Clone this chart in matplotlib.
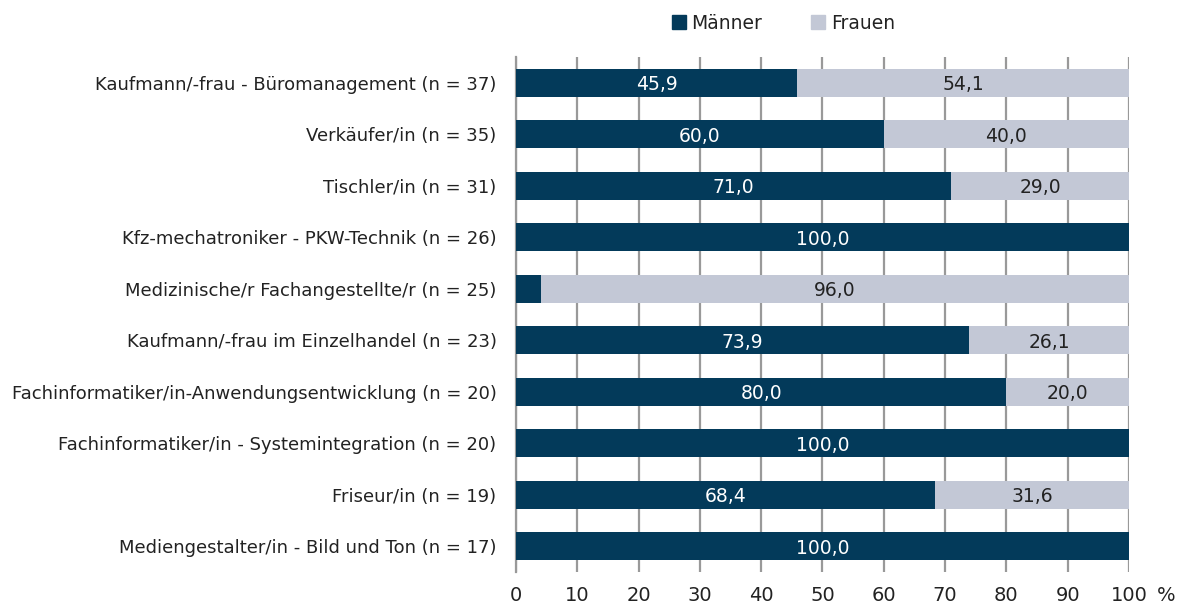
import numpy as np
import matplotlib.pyplot as plt
from matplotlib.patches import Patch

plt.rcParams['font.family'] = ['DejaVu Sans']

berufe = [
    'Kaufmann/-frau - Büromanagement (n = 37)',
    'Verkäufer/in (n = 35)',
    'Tischler/in (n = 31)',
    'Kfz-mechatroniker - PKW-Technik (n = 26)',
    'Medizinische/r Fachangestellte/r (n = 25)',
    'Kaufmann/-frau im Einzelhandel (n = 23)',
    'Fachinformatiker/in-Anwendungsentwicklung (n = 20)',
    'Fachinformatiker/in - Systemintegration (n = 20)',
    'Friseur/in (n = 19)',
    'Mediengestalter/in - Bild und Ton (n = 17)',
]
maenner = [45.9, 60.0, 71.0, 100.0, 4.0, 73.9, 80.0, 100.0, 68.4, 100.0]
frauen = [54.1, 40.0, 29.0, 0.0, 96.0, 26.1, 20.0, 0.0, 31.6, 0.0]
xticks = [0, 10, 20, 30, 40, 50, 60, 70, 80, 90, 100]

c_m = '#033a5a'
c_f = '#c3c8d6'
txt = '#222222'
fs = 13

fig = plt.figure(figsize=(11.87, 6.08), dpi=100)
ax = fig.add_axes([0.4347, 0.0592, 0.9511 - 0.4347, 0.9062 - 0.0592])

y = np.arange(len(berufe))
h = 0.54
ax.barh(y, maenner, height=h, color=c_m, zorder=3)
ax.barh(y, frauen, left=maenner, height=h, color=c_f, zorder=3)

def fmt(v):
    return f'{v:.1f}'.replace('.', ',')

# value labels, centered in each segment (tiny segments stay unlabeled)
for i in range(len(berufe)):
    if maenner[i] >= 10:
        ax.text(maenner[i] / 2, y[i] + 0.04, fmt(maenner[i]), color='white',
                ha='center', va='center', fontsize=fs + 0.5, zorder=4)
    if frauen[i] >= 10:
        ax.text(maenner[i] + frauen[i] / 2, y[i] + 0.04, fmt(frauen[i]), color=txt,
                ha='center', va='center', fontsize=fs + 0.5, zorder=4)

ax.set_xlim(0, 100)
ax.set_ylim(len(berufe) - 0.5, -0.5)
ax.set_yticks(y)
ax.set_yticklabels(berufe, fontsize=fs, color=txt)
ax.set_xticks(xticks)
ax.set_xticklabels([str(t) for t in xticks], fontsize=fs + 1, color=txt)
ax.tick_params(axis='y', length=0, pad=14)
ax.tick_params(axis='x', length=0, pad=10)
ax.grid(axis='x', color='#999999', linewidth=1.6, zorder=1)
for s in ['top', 'right', 'bottom']:
    ax.spines[s].set_visible(False)
ax.spines['left'].set_color('#999999')
ax.spines['left'].set_linewidth(1.6)

ax.text(1.06, -0.045, '%', transform=ax.transAxes, fontsize=fs + 1, color=txt,
        ha='center', va='center')

handles = [Patch(color=c_m, label='Männer'), Patch(color=c_f, label='Frauen')]
fig.legend(handles=handles, loc='center', bbox_to_anchor=(0.66, 0.962), ncol=2,
           frameon=False, fontsize=fs + 0.5, handlelength=0.75, handleheight=0.75,
           handletextpad=0.3, columnspacing=2.6, labelcolor=txt)

fig.savefig('out.png', dpi=100)
